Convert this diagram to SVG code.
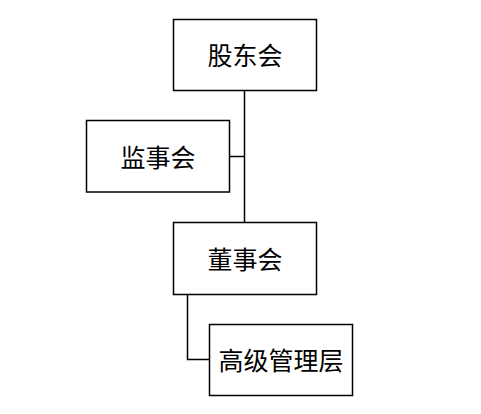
<svg xmlns="http://www.w3.org/2000/svg" width="481" height="414" viewBox="0 0 481 414">
<style>
.box{fill:#fff;stroke:#000;stroke-width:1.5}
.lbl{font-family:"Noto Sans CJK SC","Noto Sans CJK TC",sans-serif;font-size:25px;fill:#000;text-anchor:middle;dominant-baseline:central}
.con{fill:none;stroke:#000;stroke-width:1.5}
</style>
<rect width="481" height="414" fill="#fff"/>
<g id="connectors">
<path class="con" d="M244.5 90.5 V222.5"/>
<path class="con" d="M229.5 156.5 H244.5"/>
<path class="con" d="M187.5 294.5 V359.5 H209.5"/>
</g>
<g id="gudonghui"><rect class="box" x="173.5" y="19.5" width="143" height="71"/><text class="lbl" x="245" y="54">股东会</text></g>
<g id="jianshihui"><rect class="box" x="86.5" y="120.5" width="143" height="71.5"/><text class="lbl" x="158" y="156">监事会</text></g>
<g id="dongshihui"><rect class="box" x="173.5" y="222.5" width="143" height="72"/><text class="lbl" x="245" y="258">董事会</text></g>
<g id="gaoji"><rect class="box" x="209.5" y="324.5" width="143" height="71"/><text class="lbl" x="281" y="359">高级管理层</text></g>
</svg>
